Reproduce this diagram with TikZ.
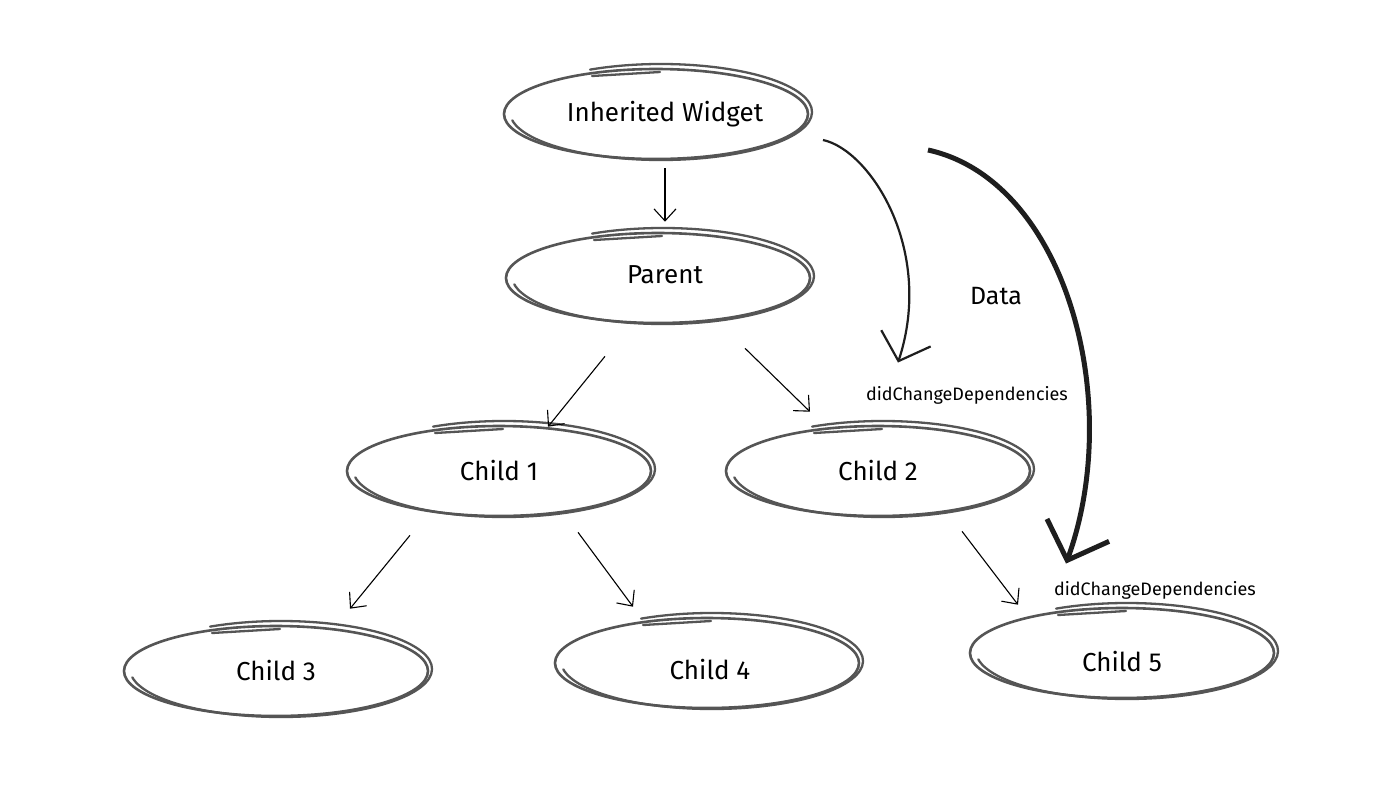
\documentclass[tikz,border=0pt]{standalone}
\usepackage{fontspec}
\setmainfont{Fira Sans}
\usetikzlibrary{arrows.meta,shapes.geometric,calc}
\definecolor{ink}{HTML}{555555}
\definecolor{pen}{HTML}{1E1E1E}
\tikzset{
  blob/.style={ellipse, draw=ink, line width=2.6pt, minimum width=304pt, minimum height=90pt, inner sep=0pt, font=\fontsize{26}{30}\selectfont},
  rim/.style={draw=ink, line width=2.3pt, line cap=round},
  link/.style={-{Straight Barb[length=12pt,width=22pt]}, line width=1.1pt, black},
  curvethin/.style={-{Straight Barb[length=24pt,width=52pt]}, line width=2.2pt, pen},
  curvethick/.style={-{Straight Barb[length=32pt,width=66pt]}, line width=5pt, pen},
  lbl/.style={font=\fontsize{18}{20}\selectfont},
  biglbl/.style={font=\fontsize{25}{28}\selectfont},
}
\newcommand{\nudge}[3]{\raisebox{#2}[\height][\depth]{\rlap{\hspace{#1}#3}\phantom{#3}}}
\newcommand{\rimof}[1]{%
  \begin{scope}[shift={(#1.center)}, yscale=-1]
    \draw[rim] (5,2) ++(118:151 and 48) arc [start angle=118, end angle=-170, x radius=151, y radius=48];
    \draw[rim] (-64,38) -- (4,42);
  \end{scope}
}
\begin{document}
\begin{tikzpicture}[x=1pt,y=-1pt]
\useasboundingbox (0,0) rectangle (1400,788);
\fill[white] (0,0) rectangle (1400,788);

\node[blob] (iw) at (656,114) {\nudge{9pt}{0pt}{Inherited Widget}};
\node[blob] (par) at (658,278) {\nudge{7pt}{3pt}{Parent}};
\node[blob] (c1) at (499,471) {Child 1};
\node[blob] (c2) at (878,471) {Child 2};
\node[blob] (c3) at (276,671) {Child 3};
\node[blob] (c4) at (707,663) {\nudge{3pt}{-7pt}{Child 4}};
\node[blob] (c5) at (1122,653) {\nudge{0pt}{-9pt}{Child 5}};
\rimof{iw}\rimof{par}\rimof{c1}\rimof{c2}\rimof{c3}\rimof{c4}\rimof{c5}

\node[lbl] (dcd1) at (967,395) {didChangeDependencies};
\node[lbl] (dcd2) at (1155,590) {didChangeDependencies};
\node[biglbl] (data) at (996,296) {Data};

\draw[link] ($(iw.south)+(9,8)$) -- ($(par.north)+(7,-10)$);
\draw[link] ($(par.south)+(-53,32)$) -- ($(c1.north)+(49,2)$);
\draw[link] ($(par.south)+(87,24)$) -- ($(c2.north)+(-68,-13)$);
\draw[link] ($(c1.south)+(-89,18)$) -- ($(c3.north)+(74,-16)$);
\draw[link] ($(c1.south)+(79,15)$) -- ($(c4.north)+(-74,-10)$);
\draw[link] ($(c2.south)+(84,14)$) -- ($(c5.north)+(-104,-2)$);

\coordinate (s1) at (823,140);
\coordinate (s2) at (928,150);
\draw[curvethin] (s1) .. controls (870,150) and (935,250) .. ($(dcd1.north)+(-69,-20)$);
\draw[curvethick] (s2) .. controls (1065,180) and (1125,400) .. ($(dcd2.north)+(-89,-14)$);
\end{tikzpicture}
\end{document}
